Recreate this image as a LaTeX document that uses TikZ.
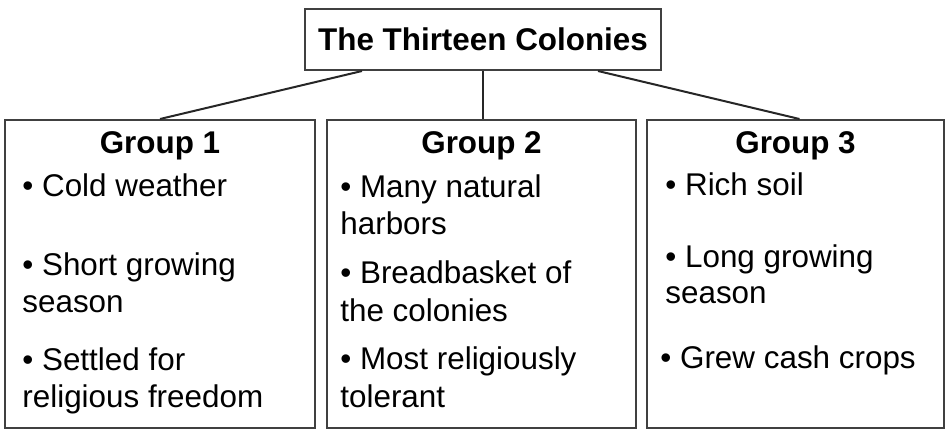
\documentclass[tikz,border=0pt]{standalone}
\usepackage{fontspec}
\setmainfont{Liberation Sans}
\usetikzlibrary{positioning}
\tikzset{every node/.style={font=\fontsize{15.7}{18.5}\selectfont}}
\tikzset{box/.style={draw=black!75, line width=1pt, inner sep=0pt},
  head/.style={font=\fontsize{15.7}{18.5}\selectfont\bfseries, anchor=base},
  item/.style={anchor=base west, inner sep=0pt},
  conn/.style={draw=black!85, line width=1pt}}

\begin{document}
\begin{tikzpicture}[x=0.5pt, y=-0.5pt]
  \useasboundingbox (0,0) rectangle (946,430);
  % title and the three groups
  \node[box, minimum width=178pt, minimum height=30.5pt,
        font=\fontsize{15.7}{18.5}\selectfont\bfseries] (title) at (483,39.5) {The Thirteen Colonies};
  \node[box, minimum width=155pt, minimum height=154pt] (g1) at (160,274) {};
  \node[box, minimum width=154.5pt, minimum height=154pt] (g2) at (481.5,274) {};
  \node[box, minimum width=148.5pt, minimum height=154pt] (g3) at (795.5,274) {};
  \draw[conn] ([xshift=29pt]title.south west) -- (g1.north);
  \draw[conn] (title.south) -- (title.south |- g2.north);
  \draw[conn] ([xshift=-32pt]title.south east) -- ([xshift=2pt]g3.north);
  % group 1
  \node[head] (h1) at (160,153) {Group 1};
  \node[item] (a1) at (22,196) {• Cold weather};
  \node[item] (a2) at (22,275) {• Short growing};
  \node[item] (a3) at (22,312) {season};
  \node[item] (a4) at (22,370) {• Settled for};
  \node[item] (a5) at (22,407) {religious freedom};
  % group 2
  \node[head] (h2) at (481.5,153) {Group 2};
  \node[item] (b1) at (340,197) {• Many natural};
  \node[item] (b2) at (340,234) {harbors};
  \node[item] (b3) at (340,283) {• Breadbasket of};
  \node[item] (b4) at (340,321) {the colonies};
  \node[item] (b5) at (340,369) {• Most religiously};
  \node[item] (b6) at (340,407) {tolerant};
  % group 3
  \node[head] (h3) at (795.5,153) {Group 3};
  \node[item] (c1) at (665,195) {• Rich soil};
  \node[item] (c2) at (665,267) {• Long growing};
  \node[item] (c3) at (665,303) {season};
  \node[item] (c4) at (660,368) {• Grew cash crops};
\end{tikzpicture}
\end{document}
